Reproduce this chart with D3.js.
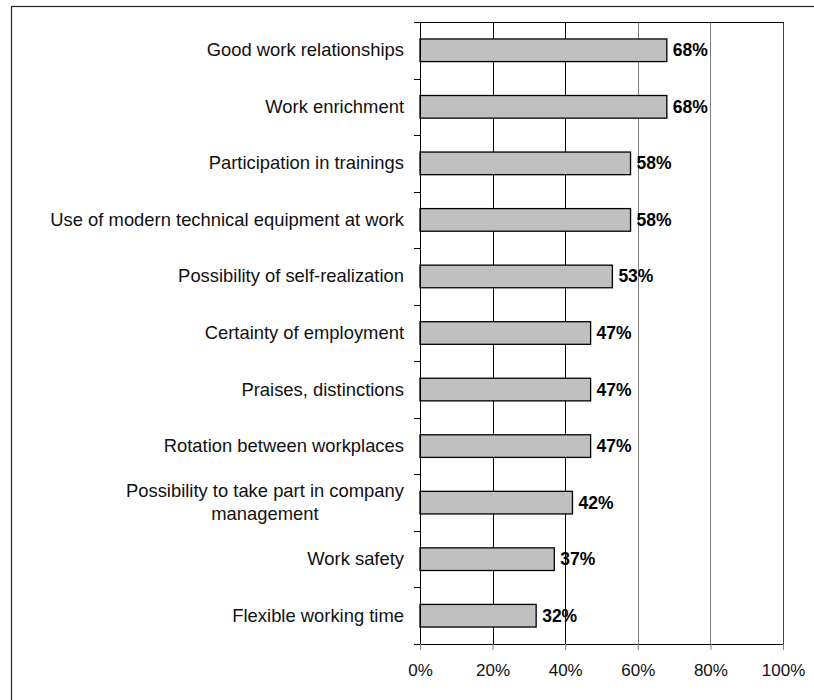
<!DOCTYPE html>
<html>
<head>
<meta charset="utf-8">
<script src="https://cdn.jsdelivr.net/npm/d3@7"></script>
<style>
  html, body { margin: 0; padding: 0; background: #fff; }
  svg { display: block; font-family: "Liberation Sans", Arial, sans-serif; }
</style>
</head>
<body>
<svg id="chart" width="814" height="700"></svg>
<script>
// Share of respondents naming each factor
const categories = [
  "Good work relationships",
  "Work enrichment",
  "Participation in trainings",
  "Use of modern technical equipment at work",
  "Possibility of self-realization",
  "Certainty of employment",
  "Praises, distinctions",
  "Rotation between workplaces",
  "Possibility to take part in company management",
  "Work safety",
  "Flexible working time"
];
const values = [68, 68, 58, 58, 53, 47, 47, 47, 42, 37, 32];
const xTicks = [0, 20, 40, 60, 80, 100];

const svg = d3.select("#chart");
const plot = { left: 420, right: 783, top: 22, bottom: 644 };

// outer frame
svg.append("rect")
  .attr("x", 11.5).attr("y", 6.5)
  .attr("width", 820).attr("height", 720)
  .attr("fill", "none").attr("stroke", "#222").attr("stroke-width", 1.2);

const x = d3.scaleLinear().domain([0, 100]).range([plot.left, plot.right]);
const y = d3.scaleBand().domain(categories)
  .range([plot.top, plot.bottom])
  .paddingInner(0.6).paddingOuter(0.3);
const step = y.step();

// vertical gridlines
svg.append("g").selectAll("line")
  .data(xTicks.filter(t => t > 0))
  .join("line")
  .attr("x1", d => Math.round(x(d)) + 0.5).attr("x2", d => Math.round(x(d)) + 0.5)
  .attr("y1", plot.top).attr("y2", plot.bottom)
  .attr("stroke", (d, i) => i < 2 ? "#000" : (d === 100 ? "#404040" : "#808080"))
  .attr("stroke-width", 1);

// top edge of plot area
svg.append("line")
  .attr("x1", plot.left).attr("x2", Math.round(x(100)) + 1)
  .attr("y1", plot.top + 0.5).attr("y2", plot.top + 0.5)
  .attr("stroke", "#000");

// bars
svg.append("g").selectAll("rect")
  .data(categories)
  .join("rect")
  .attr("x", x(0))
  .attr("y", d => y(d))
  .attr("width", (d, i) => x(values[i]) - x(0))
  .attr("height", y.bandwidth())
  .attr("fill", "#c0c0c0")
  .attr("stroke", "#000")
  .attr("stroke-width", 1.3);

// value labels
svg.append("g").selectAll("text")
  .data(categories)
  .join("text")
  .attr("x", (d, i) => x(values[i]) + 6)
  .attr("y", d => y(d) + y.bandwidth() / 2 + 6)
  .attr("font-size", "17.5px")
  .attr("font-weight", "bold")
  .attr("fill", "#000")
  .text((d, i) => values[i] + "%");

// x axis
const xAxis = d3.axisBottom(x)
  .tickValues(xTicks)
  .tickFormat(d => d + "%")
  .tickSize(6)
  .tickSizeOuter(0)
  .tickPadding(14);
const gx = svg.append("g")
  .attr("transform", `translate(0,${plot.bottom})`)
  .call(xAxis);
gx.select(".domain").attr("stroke", "#000");
gx.selectAll(".tick line").attr("stroke", "#808080");
gx.selectAll(".tick text")
  .attr("font-size", "17px")
  .attr("fill", "#111")
  .attr("font-family", "\"Liberation Sans\", Arial, sans-serif");

// y axis line and boundary ticks
svg.append("line")
  .attr("x1", plot.left + 0.5).attr("x2", plot.left + 0.5)
  .attr("y1", plot.top).attr("y2", plot.bottom)
  .attr("stroke", "#000");
const boundaries = d3.range(categories.length + 1).map(i => plot.top + i * step);
svg.append("g").selectAll("line")
  .data(boundaries)
  .join("line")
  .attr("x1", plot.left - 6).attr("x2", plot.left)
  .attr("y1", d => Math.round(d) + 0.5).attr("y2", d => Math.round(d) + 0.5)
  .attr("stroke", "#000");

// category labels, wrapped when too wide
const labelRight = 404;
const maxWidth = 365;
const lineHeight = 23;
const gy = svg.append("g")
  .attr("font-size", "18.4px")
  .attr("fill", "#111");

function textWidth(s) {
  const t = gy.append("text").text(s);
  const w = t.node().getComputedTextLength();
  t.remove();
  return w;
}

categories.forEach(cat => {
  const cy = y(cat) + y.bandwidth() / 2;
  let lines = [cat];
  if (textWidth(cat) > maxWidth) {
    const words = cat.split(" ");
    lines = [];
    let cur = [];
    words.forEach(w => {
      const trial = cur.concat(w).join(" ");
      if (textWidth(trial) > maxWidth && cur.length) {
        lines.push(cur.join(" "));
        cur = [w];
      } else {
        cur.push(w);
      }
    });
    if (cur.length) lines.push(cur.join(" "));
  }
  if (lines.length === 1) {
    gy.append("text")
      .attr("x", labelRight)
      .attr("y", cy + 6)
      .attr("text-anchor", "end")
      .text(cat);
  } else {
    const blockW = d3.max(lines, textWidth);
    const cx = labelRight - blockW / 2;
    const y0 = cy + 6 - (lines.length - 1) * lineHeight / 2;
    lines.forEach((l, i) => {
      gy.append("text")
        .attr("x", cx)
        .attr("y", y0 + i * lineHeight)
        .attr("text-anchor", "middle")
        .text(l);
    });
  }
});
</script>
</body>
</html>
